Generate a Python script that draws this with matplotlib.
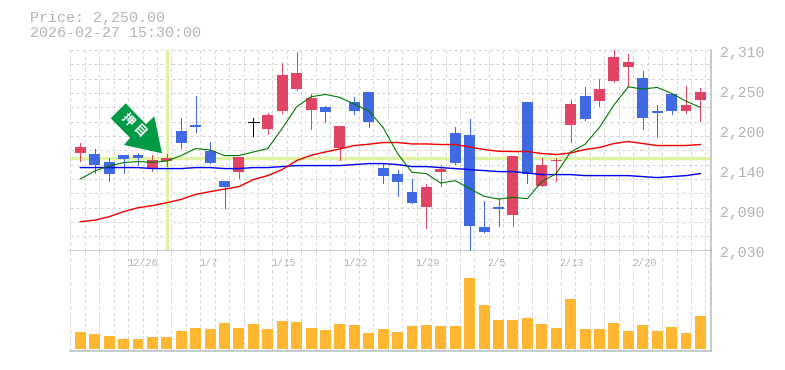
import numpy as np
import matplotlib
matplotlib.use("Agg")
import matplotlib.pyplot as plt
from matplotlib.patches import Polygon, Rectangle

highs = [2179.8,2171.4,2158.8,2163,2165.8,2163,2164.4,2214.8,2245.6,2181.2,2126.6,2160.2,2214.8,2221.8,2291.8,2307.2,2248.4,2231.6,2203.6,2244.2,2251.2,2151.8,2142,2129.4,2122.4,2149,2202.2,2213.4,2098.6,2102.8,2161.6,2237.2,2158.8,2158.8,2240,2258.2,2269.4,2310,2304.4,2280.6,2233,2248.4,2259.6,2256.8]
lows = [2154.6,2137.8,2126.6,2137.8,2149,2140.6,2147.6,2172.8,2195.2,2151.8,2088.8,2130.8,2189.6,2192.4,2221.8,2254,2199.4,2209.2,2156,2220.4,2202.2,2123.8,2105.6,2095.8,2060.8,2119.6,2150.4,2030,2055.2,2063.6,2063.6,2123.8,2119.6,2126.6,2181.2,2212,2231.6,2265.2,2258.2,2199.4,2188.2,2220.4,2221.8,2210.6]
opens = [2165.8,2164.4,2153.2,2163,2163,2144.8,2154.6,2196.6,2205,2168.6,2126.6,2139.2,2209.2,2199.4,2224.6,2255.4,2226,2230.2,2172.8,2237.2,2251.2,2144.8,2136.4,2111.2,2090.2,2139.2,2193.8,2191,2062.2,2090.2,2079,2237.2,2119.6,2154.6,2205,2245.6,2238.6,2266.6,2286.2,2270.8,2224.6,2248.4,2224.6,2240]
closes = [2174.2,2149,2136.4,2157.4,2158.8,2156,2158.8,2179.8,2202.2,2151.8,2118.2,2160.2,2209.2,2219,2275,2277.8,2242.8,2223.2,2203.6,2224.6,2209.2,2133.6,2125.2,2095.8,2118.2,2143.4,2151.8,2063.6,2055.2,2087.4,2161.6,2136.4,2149,2156,2234.4,2213.4,2255.4,2300.2,2293.2,2214.8,2221.8,2224.6,2233,2251.2]
ma_short = [2129.8,2141,2148,2152.8,2154.2,2153.2,2155,2162.6,2172.4,2170.4,2162.6,2162.6,2167.6,2172.4,2200.4,2230.6,2244.6,2248,2243.8,2234.4,2225,2201.8,2165.4,2139.2,2137.4,2124.2,2127.6,2116.4,2105.6,2101.8,2104.2,2102.4,2126.2,2137.4,2167.6,2178.4,2201.8,2233,2258.6,2255.4,2257.8,2249.4,2238.6,2229.8]
ma_mid = [2070.2,2072.4,2077.2,2084.2,2089.8,2092.6,2096.8,2101.4,2108.4,2112.2,2115.8,2119.2,2129,2134.6,2143,2155.6,2163,2167.6,2171.8,2176.6,2178.4,2180.8,2180.8,2178.8,2178.8,2178,2178,2174.6,2171,2168.6,2168.2,2168.2,2165.4,2164,2166.2,2171,2173.8,2179.4,2182.2,2179.4,2176.6,2176.6,2176.6,2178]
ma_long = [2145.8,2145.8,2145.8,2145.8,2145.8,2144.4,2144.4,2144.4,2145.8,2145.8,2144.4,2144.4,2145.8,2145.8,2147.2,2148.6,2148.6,2148.6,2148.6,2150,2151.4,2151.4,2150,2147.2,2147.2,2145.8,2144.4,2143,2141.6,2140.2,2140.2,2138.2,2136,2136,2136,2134.6,2134.6,2134.6,2134.6,2133.2,2131.8,2133.2,2134.6,2137.4]
volumes = [17,15,13,10,10,12,12,18,21,20,26,21,25,20,28,27,21,19,25,24,16,20,17,23,24,23,23,71,44,29,29,31,25,21,50,20,20,26,18,24,18,22,16,33]
price_labels = ["2,030","2,090","2,140","2,200","2,250","2,310"]
price_label_at = [2030,2086,2142,2198,2254,2310]
date_labels = ["12/26","1/7","1/15","1/22","1/29","2/5","2/13","2/20"]
date_index = [3,8,13,18,23,28,33,38]
header = ["Price: 2,250.00","2026-02-27 15:30:00"]
cross_index = 6
cross_price = 2158.5
badge = "押目"

W, H = 785, 370
RED, BLUE, ORANGE, GREEN = "#E24464", "#4169E1", "#FFB733", "#009944"
LIME, GRID, EDGE, TXT = "#E0F2A6", "#D4D4D4", "#BBBBBB", "#B4B4B4"
MONO = "Liberation Mono"
PX = 0.72

fig = plt.figure(figsize=(W/100, H/100), dpi=100, facecolor="white")
def box(l, t, r, b):
    return [l/W, (H-b)/H, (r-l)/W, (b-t)/H]
ax = fig.add_axes(box(70, 50, 710.5, 250.5))
av = fig.add_axes(box(70, 250.5, 710.5, 350.5))

n = len(closes)
x = np.arange(n)
xlim = (-0.714, 43.70)
grid_x = np.arange(-0.69, 44, 1.0008)
for a in (ax, av):
    a.set_xlim(*xlim)
    a.set_xticks(grid_x)
    a.tick_params(length=0, labelbottom=False, labelleft=False)
    a.grid(True, axis="x", color=GRID, lw=PX, ls=(0, (3, 3)))
    a.set_axisbelow(True)
    for s in a.spines.values():
        s.set_color(EDGE); s.set_linewidth(PX*1.5)
    a.spines["top"].set_visible(False)
    a.spines["left"].set_visible(False)

ax.set_ylim(2030, 2310)
ax.set_yticks(np.arange(2030, 2311, 20))
ax.grid(True, axis="y", color=GRID, lw=PX, ls=(0, (3, 3)))

# crosshair
ax.axhline(cross_price, color=LIME, lw=PX*3.4, zorder=1.5)
ax.axvline(cross_index, color=LIME, lw=PX*3.4, zorder=1.5)

bw = 0.76
for i in range(n):
    o, c = opens[i], closes[i]
    if o == c:
        col = "black"
    else:
        col = RED if c > o else BLUE
    ax.vlines(x[i], lows[i], highs[i], color=col, lw=PX, zorder=3, antialiased=False)
    if o == c:
        ax.hlines(o, x[i]-bw/2, x[i]+bw/2, color=col, lw=PX, zorder=3, antialiased=False)
    else:
        ax.add_patch(Rectangle((x[i]-bw/2, min(o, c)), bw, abs(c-o), fc=col, ec="none", zorder=3, antialiased=False))

ax.plot(x, ma_long, color="#0000EE", lw=PX*1.4, zorder=4)
ax.plot(x, ma_mid, color="#EE0000", lw=PX*1.4, zorder=4)
ax.plot(x, ma_short, color="#007700", lw=PX*1.1, zorder=4)

av.set_ylim(-2, 98)
av.set_yticks([])
av.bar(x, volumes, width=bw, color=ORANGE, zorder=3, antialiased=False)

for lab, val in zip(price_labels, price_label_at):
    ax.annotate(lab, (1, val), xycoords=("axes fraction", "data"), xytext=(9.5, -3),
                textcoords="offset pixels", family=MONO, fontsize=10.7, color=TXT,
                ha="left", va="center", annotation_clip=False)
for lab, i in zip(date_labels, date_index):
    av.annotate(lab, (i, 1), xycoords=("data", "axes fraction"), xytext=(3.5, -12),
                textcoords="offset pixels", family=MONO, fontsize=7.3, color=TXT,
                ha="left", va="center")
for lab, yy in zip(header, (18, 33)):
    fig.text(30/W, 1-yy/H, lab, family=MONO, fontsize=10.8, color=TXT, ha="left", va="center")

# arrow badge (figure-pixel outline)
pts = np.array([(125.7,103.3),(110.7,118.3),(130,137.7),(124,145),(162,153.3),(154.3,116.3),(146,124.3)])
pts[:,1] = H - pts[:,1]
fig.add_artist(Polygon(pts, closed=True, fc=GREEN, ec="none", transform=None, zorder=5))
for ch, (px, py) in zip(badge, ((127, 120.5), (139, 131.5))):
    fig.text(px/W, 1-py/H, ch, family="Noto Sans CJK JP", fontweight="bold", fontsize=9,
             color="white", rotation=-45, rotation_mode="anchor", ha="center", va="center", zorder=6)

fig.savefig("out.png", dpi=100, facecolor="white")
